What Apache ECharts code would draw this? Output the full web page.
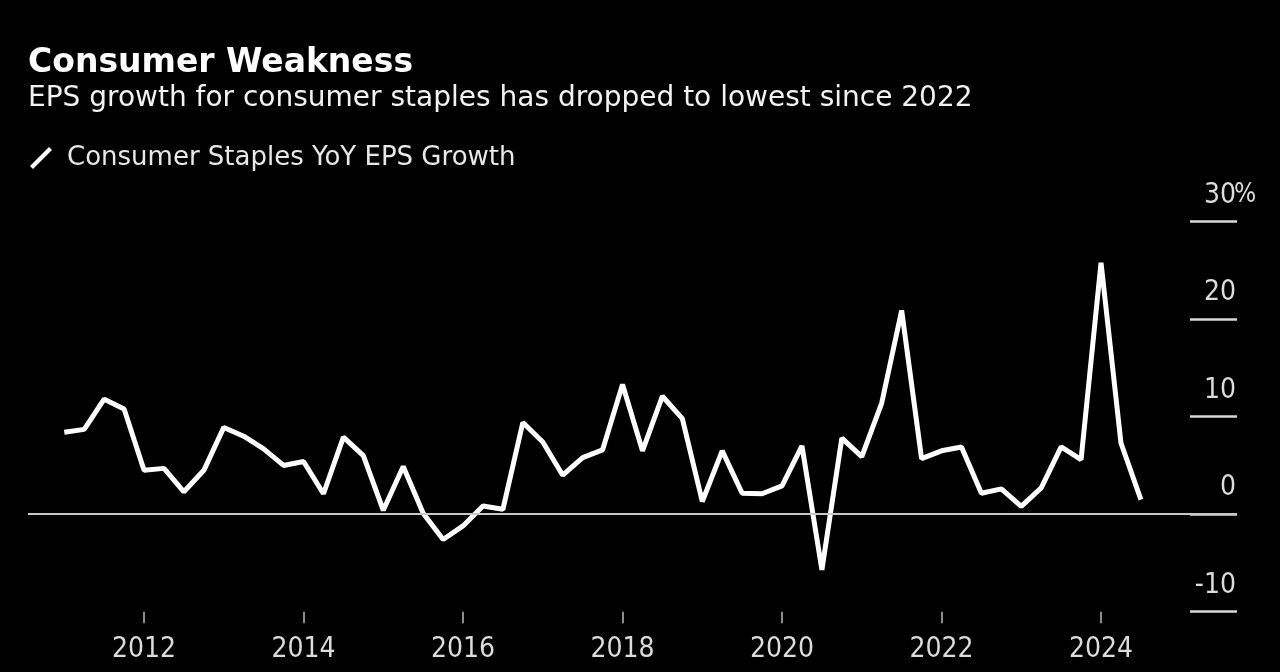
<!DOCTYPE html>
<html>
<head>
<meta charset="utf-8">
<script src="https://cdn.jsdelivr.net/npm/echarts@6/dist/echarts.min.js"></script>
<style>
html,body{margin:0;padding:0;background:#000;}
#chart{width:1280px;height:672px;}
</style>
</head>
<body>
<div id="chart"></div>
<script>
var titleText = 'Consumer Weakness';
var subtitleText = 'EPS growth for consumer staples has dropped to lowest since 2022';
var seriesName = 'Consumer Staples YoY EPS Growth';

var quarters = [
  '2011 Q1','2011 Q2','2011 Q3','2011 Q4',
  '2012 Q1','2012 Q2','2012 Q3','2012 Q4',
  '2013 Q1','2013 Q2','2013 Q3','2013 Q4',
  '2014 Q1','2014 Q2','2014 Q3','2014 Q4',
  '2015 Q1','2015 Q2','2015 Q3','2015 Q4',
  '2016 Q1','2016 Q2','2016 Q3','2016 Q4',
  '2017 Q1','2017 Q2','2017 Q3','2017 Q4',
  '2018 Q1','2018 Q2','2018 Q3','2018 Q4',
  '2019 Q1','2019 Q2','2019 Q3','2019 Q4',
  '2020 Q1','2020 Q2','2020 Q3','2020 Q4',
  '2021 Q1','2021 Q2','2021 Q3','2021 Q4',
  '2022 Q1','2022 Q2','2022 Q3','2022 Q4',
  '2023 Q1','2023 Q2','2023 Q3','2023 Q4',
  '2024 Q1','2024 Q2','2024 Q3'
];
var epsGrowth = [
  8.4, 8.7, 11.8, 10.8,
  4.5, 4.7, 2.3, 4.5,
  8.9, 8.0, 6.7, 5.0,
  5.4, 2.1, 7.9, 6.0,
  0.4, 4.9, 0.1, -2.6,
  -1.2, 0.85, 0.5, 9.4,
  7.4, 4.0, 5.8, 6.6,
  13.3, 6.5, 12.1, 9.8,
  1.3, 6.5, 2.15, 2.1,
  2.9, 7.0, -5.7, 7.8,
  5.9, 11.4, 20.9, 5.7,
  6.5, 6.9, 2.15, 2.6,
  0.8, 2.7, 6.9, 5.6,
  25.8, 7.3, 1.5
];
var xTickYears = [2012, 2014, 2016, 2018, 2020, 2022, 2024];
var yTicks = [-10, 0, 10, 20, 30];

function quarterToYear(q) {
  var parts = q.split(' Q');
  return Number(parts[0]) + (Number(parts[1]) - 1) / 4;
}
var points = quarters.map(function (q, i) { return [quarterToYear(q), epsGrowth[i]]; });

var FONT = '"DejaVu Sans", sans-serif';
var AXFONT = '"DejaVu Sans Condensed", "DejaVu Sans", sans-serif';
var chart = echarts.init(document.getElementById('chart'), null, {renderer: 'canvas'});
chart.setOption({
  backgroundColor: '#000',
  animation: false,
  title: [
    {
      text: titleText, left: 23, top: 42,
      textStyle: {color: '#fff', fontFamily: FONT, fontWeight: 'bold', fontSize: 33}
    },
    {
      text: subtitleText, left: 23, top: 80,
      textStyle: {color: '#f2f2f2', fontFamily: FONT, fontWeight: 'normal', fontSize: 28}
    }
  ],
  legend: {
    left: 30, top: 145, padding: 0,
    itemWidth: 22, itemHeight: 22,
    icon: 'path://M0,19 L3,22 L22,3 L19,0 Z',
    data: [seriesName],
    textStyle: {color: '#e8e8e8', fontFamily: FONT, fontSize: 26, padding: [0, 0, 0, 10]},
    selectedMode: false
  },
  grid: {left: 28, right: 43, top: 221.7, bottom: 60.3},
  xAxis: {
    type: 'value',
    min: 2010.545, max: 2025.705,
    axisLine: {show: false, onZero: false},
    splitLine: {show: false},
    axisTick: {show: true, length: 11.5, customValues: xTickYears, lineStyle: {color: '#bbb', width: 1.5}},
    axisLabel: {
      customValues: xTickYears, margin: 24,
      color: '#dcdcdc', fontFamily: AXFONT, fontSize: 28,
      formatter: function (v) { return String(Math.round(v)); }
    }
  },
  yAxis: {
    type: 'value', position: 'right',
    min: -10, max: 30, interval: 10,
    axisLine: {show: false},
    splitLine: {show: false},
    axisTick: {show: true, inside: true, length: 47, lineStyle: {color: '#d8d8d8', width: 2.5}},
    axisLabel: {
      inside: true, margin: -17,
      verticalAlign: 'bottom', padding: [0, 0, 12, 0],
      color: '#dcdcdc', fontFamily: AXFONT, fontSize: 28,
      formatter: function (v) { return '{n|' + v + '}' + (v === 30 ? '{p|%}' : '{h|%}'); },
      rich: {
        n: {color: '#dcdcdc', fontFamily: AXFONT, fontSize: 28},
        p: {color: '#dcdcdc', fontFamily: AXFONT, fontSize: 26, width: 18, align: 'left'},
        h: {color: 'rgba(0,0,0,0)', fontFamily: AXFONT, fontSize: 26, width: 18, align: 'left'}
      }
    }
  },
  series: [{
    name: seriesName,
    type: 'line',
    data: points,
    symbol: 'none',
    lineStyle: {color: '#fff', width: 5},
    itemStyle: {color: '#fff'},
    markLine: {
      silent: true, symbol: 'none', label: {show: false},
      lineStyle: {color: '#c8c8c8', width: 2, type: 'solid'},
      data: [{yAxis: 0}]
    },
    z: 3
  }]
});
</script>
</body>
</html>
